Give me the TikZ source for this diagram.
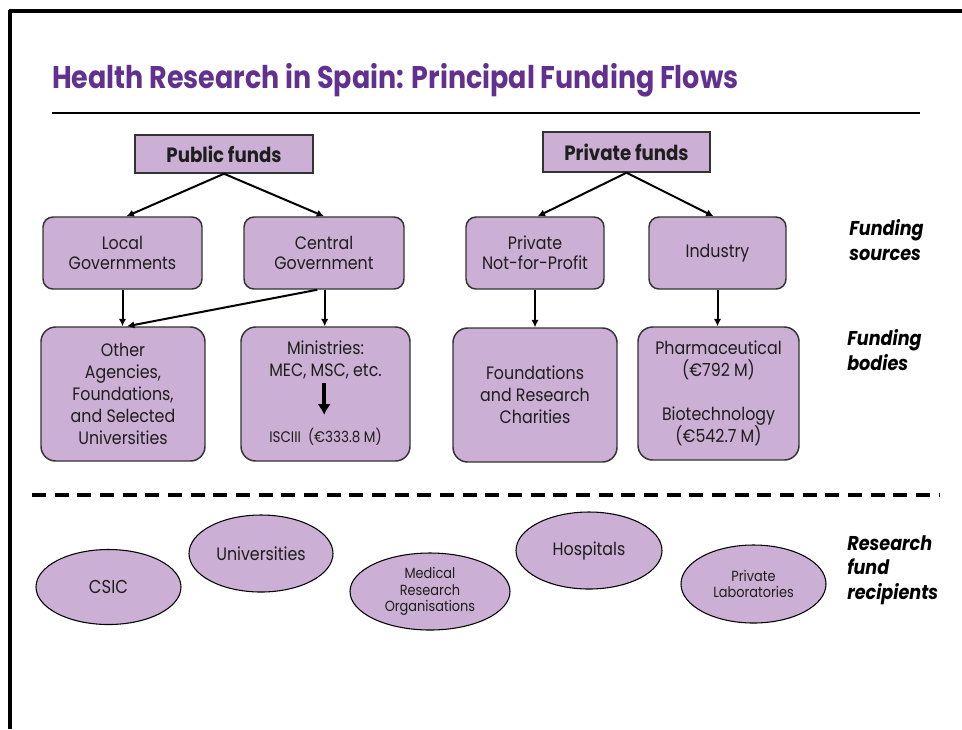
\documentclass[tikz,border=0pt]{standalone}
\usepackage{fontspec}
\setmainfont{Poppins}[FakeStretch=0.88]
\newfontfamily\titlefont{Poppins}[FakeStretch=0.86]
\usetikzlibrary{arrows.meta,shapes.geometric}
\definecolor{boxfill}{HTML}{CCAFD4}
\definecolor{titlepurple}{HTML}{62318F}
\definecolor{txt}{HTML}{1E1E1E}
\definecolor{edge}{HTML}{333333}
\tikzset{
  sqbox/.style={draw=edge,line width=1.1pt,fill=boxfill,inner sep=0pt,text=txt,
    font=\bfseries\fontsize{15.5}{17}\selectfont},
  srcbox/.style={draw=edge,line width=1.1pt,fill=boxfill,rounded corners=7.5pt,inner sep=0pt,
    minimum height=54pt,align=center,text=txt,font=\fontsize{13.5}{15}\selectfont},
  bodybox/.style={draw=edge,line width=1.1pt,fill=boxfill,rounded corners=11pt,inner sep=0pt,
    minimum height=100.5pt,align=center,text=txt,font=\fontsize{13.5}{16.5}\selectfont},
  recip/.style={ellipse,draw=black,line width=0.8pt,fill=boxfill,inner sep=0pt,align=center,text=txt},
  flow/.style={draw=black,line width=1.5pt,-{Latex[length=5.5pt,width=5.5pt]}},
  sidelabel/.style={anchor=west,align=left,inner sep=0pt,text=black,
    font=\bfseries\itshape\fontsize{15}{18.5}\selectfont},
}
\begin{document}
\begin{tikzpicture}[x=0.75pt,y=-0.75pt]
\useasboundingbox (0,0) rectangle (962,729);
% frame
\draw[line width=2.4pt] (9,11) -- (962,11);
\draw[line width=2.4pt] (10,10) -- (10,729);
% title
\node[anchor=base west,inner sep=0pt,text=titlepurple,font=\titlefont\bfseries\fontsize{23.5}{26}\selectfont] (title) at (52,88) {Health Research in Spain: Principal Funding Flows};
\draw[line width=1.6pt] (52,113) -- (920,113);
% top level
\node[sqbox,minimum width=133.5pt,minimum height=28.5pt] (pub) at (224,154) {Public funds};
\node[sqbox,minimum width=125.25pt,minimum height=30pt] (priv) at (626.5,152) {Private funds};
% funding sources
\node[srcbox,minimum width=119.25pt] (local) at (122.5,253) {Local\\Governments};
\node[srcbox,minimum width=120pt] (central) at (324,253) {Central\\Government};
\node[srcbox,minimum width=103.5pt] (pnfp) at (535,253) {Private\\Not-for-Profit};
\node[srcbox,minimum width=102.75pt] (ind) at (717.5,253) {Industry};
% funding bodies
\node[bodybox,minimum width=123pt] (other) at (123,394) {Other\\Agencies,\\Foundations,\\and Selected\\Universities};
\node[bodybox,minimum width=126.75pt] (min) at (325.5,394) {};
\node[align=center,inner sep=0pt,text=txt,font=\fontsize{13.5}{16.5}\selectfont] (mintop) at (325.5,360) {Ministries:\\MEC, MSC, etc.};
\node[inner sep=0pt,text=txt,font=\fontsize{11.5}{13}\selectfont] (isciii) at (325.5,437) {ISCIII\ \ (€333.8 M)};
\node[bodybox,minimum width=123pt] (found) at (535,395) {Foundations\\and Research\\Charities};
\node[bodybox,minimum width=120.75pt,minimum height=99.75pt] (pharma) at (718.5,393.5) {Pharmaceutical\\(€792 M)\\[16.5pt]Biotechnology\\(€542.7 M)};
% flows
\draw[flow] (pub.south) -- ([xshift=3pt]local.north);
\draw[flow] (pub.south) -- (central.north);
\draw[flow] (priv.south) -- ([xshift=2pt]pnfp.north);
\draw[flow] (priv.south) -- ([xshift=-3pt]ind.north);
\draw[flow] (local.south) -- (local.south |- other.north);
\draw[flow] ([xshift=-5pt]central.south) -- ([xshift=3pt]other.north);
\draw[flow] ([xshift=0.5pt]central.south) -- ([xshift=0.5pt]central.south |- min.north);
\draw[flow] (pnfp.south) -- (pnfp.south |- found.north);
\draw[flow] (ind.south) -- (ind.south |- pharma.north);
\draw[line width=2.6pt,-{Latex[length=8pt,width=10pt]},shorten <=3pt,shorten >=10pt] ([xshift=-1pt]mintop.south) -- ([xshift=-1pt]mintop.south |- isciii.north);
% side labels
\node[sidelabel] (lsrc) at (849,240) {Funding\\sources};
\node[sidelabel] (lbod) at (847,350) {Funding\\bodies};
\node[sidelabel] (lrec) at (847,570) {Research\\fund\\recipients};
% separator
\draw[line width=2.3pt,dash pattern=on 10.5pt off 6.5pt] (32,495) -- (940,495);
% recipients
\node[recip,minimum width=108.75pt,minimum height=56.25pt,font=\fontsize{14}{16}\selectfont] (csic) at (108.5,587) {CSIC};
\node[recip,minimum width=108pt,minimum height=57.75pt,font=\fontsize{13.5}{16}\selectfont] (univ) at (261,553.5) {Universities};
\node[recip,minimum width=120pt,minimum height=57.75pt,font=\fontsize{11}{12.5}\selectfont] (mro) at (430,591.5) {Medical\\Research\\Organisations};
\node[recip,minimum width=109.5pt,minimum height=57.75pt,font=\fontsize{13.5}{16}\selectfont] (hosp) at (589,550.5) {Hospitals};
\node[recip,minimum width=108.75pt,minimum height=58.5pt,font=\fontsize{11}{12.5}\selectfont] (plab) at (753.5,584) {Private\\Laboratories};
\end{tikzpicture}
\end{document}
